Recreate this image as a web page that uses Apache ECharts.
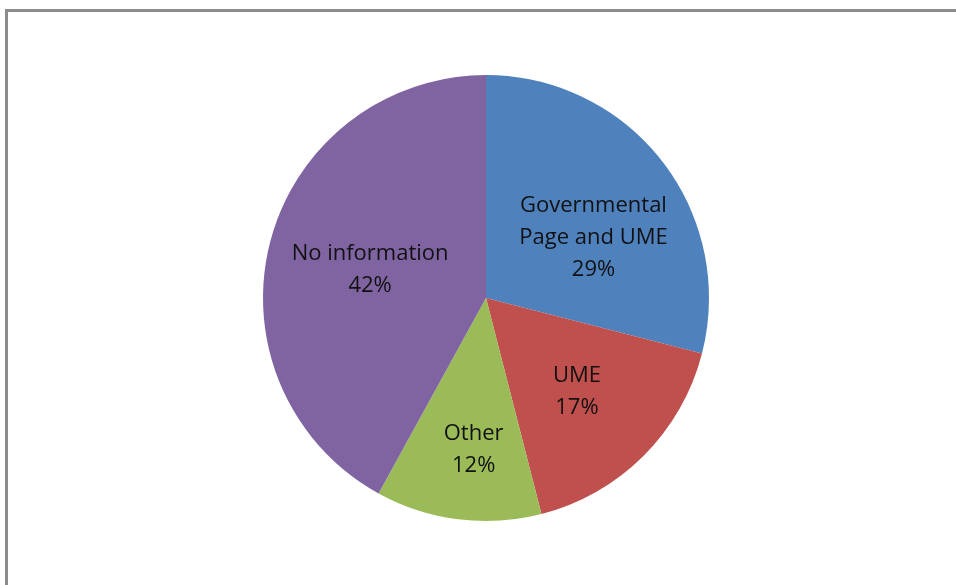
<!DOCTYPE html>
<html>
<head>
<meta charset="utf-8">
<script src="https://cdn.jsdelivr.net/npm/echarts@6/dist/echarts.min.js"></script>
<style>
html,body{margin:0;padding:0;background:#fff;overflow:hidden;}
#chart{position:absolute;left:0;top:0;width:956px;height:585px;}
#frame{position:absolute;left:5px;top:9px;width:1000px;height:700px;border:3px solid #8c8c8c;pointer-events:none;box-sizing:border-box;}
</style>
</head>
<body>
<div id="chart"></div>
<div id="frame"></div>
<script>
const categories = ['Governmental\nPage and UME', 'UME', 'Other', 'No information'];
const values = [29, 17, 12, 42];
const colors = ['#4F81BD', '#C0504D', '#9BBB59', '#8064A2'];
const labelShift = [[17, 10], [10, 13], [2, 38], [-5, 0]];

const chart = echarts.init(document.getElementById('chart'), null, {renderer: 'canvas'});
chart.setOption({
  animation: false,
  series: [{
    type: 'pie',
    center: [486, 298],
    radius: [0, 223],
    startAngle: 90,
    clockwise: true,
    data: categories.map((c, i) => ({name: c, value: values[i], itemStyle: {color: colors[i]}})),
    itemStyle: {borderColor: '#fff', borderWidth: 0},
    label: {
      position: 'inside',
      formatter: p => p.name + '\n' + p.value + '%',
      fontFamily: 'Open Sans',
      fontSize: 22,
      lineHeight: 32,
      color: '#111',
      align: 'center'
    },
    labelLine: {show: false},
    emphasis: {disabled: true},
    labelLayout: function (p) {
      const s = labelShift[p.dataIndex];
      return {dx: s[0], dy: s[1]};
    }
  }]
});
</script>
</body>
</html>
